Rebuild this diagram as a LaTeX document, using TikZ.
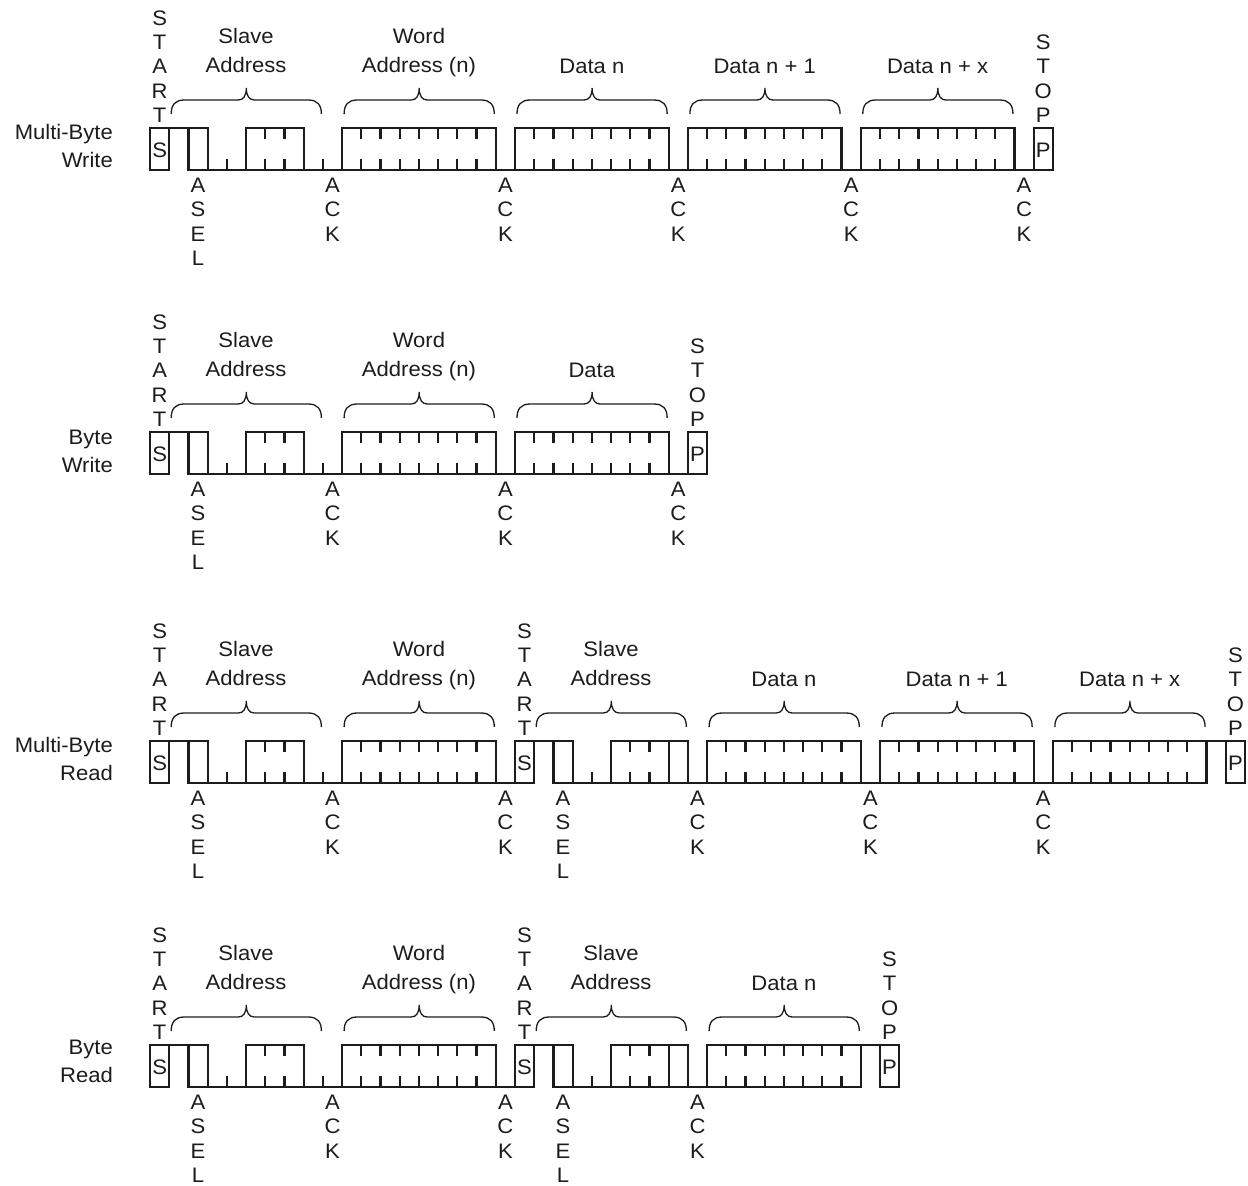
\documentclass[tikz,border=0pt]{standalone}
\usepackage{fontspec}
\setmainfont{Liberation Sans}[FakeStretch=1.05]

\definecolor{ink}{RGB}{30,27,28}

% cell grid of the bus diagrams
\newcommand{\cx}[1]{150+19.21*(#1)}
\newcommand{\sigtop}{128}
\newcommand{\sigbot}{170}

\newcommand{\lowrun}[2]{\draw[wave] ({\cx{#1}},\sigbot) -- ({\cx{#2}},\sigbot);}
\newcommand{\highrun}[2]{\draw[wave] ({\cx{#1}},\sigtop) -- ({\cx{#2}},\sigtop);}
\newcommand{\lowtick}[1]{\draw[wave] ({\cx{#1}},\sigbot) -- ++(0,-11);}
\newcommand{\onebit}[1]{\draw[wave] ({\cx{#1}},\sigtop) rectangle ({\cx{#1+1}},\sigbot);}
\newcommand{\bitbox}[2]{%
  \draw[wave] ({\cx{#1}},\sigtop) rectangle ({\cx{#1+#2}},\sigbot);
  \foreach \i in {2,...,#2}
    \draw[wave] ({\cx{#1+\i-1}},\sigtop) -- ++(0,11)
                ({\cx{#1+\i-1}},\sigbot) -- ++(0,-11);}
\newcommand{\under}[3]{\node[stack,anchor=north] (#3) at ({\cx{#1+0.5}},178) {#2};}
\newcommand{\markbox}[4]{%
  \onebit{#1}
  \node[inbox] (#4) at ({\cx{#1+0.5}},150) {#2};
  \node[stack,anchor=south] (#4-lbl) at ({\cx{#1+0.5}},122.5) {#3};}
\newcommand{\fieldbrace}[2]{%
  \pgfmathsetmacro\brL{\cx{#1}+2}%
  \pgfmathsetmacro\brR{\cx{#2}-1.5}%
  \pgfmathsetmacro\brM{(\brL+\brR)/2}%
  \draw[brace] (\brL,114) .. controls (\brL,105) and ({\brL+4},100) .. ({\brL+13},100)
    -- ({\brM-8},100) .. controls ({\brM-3},100) and (\brM,96) .. (\brM,88)
    .. controls (\brM,96) and ({\brM+3},100) .. ({\brM+8},100)
    -- ({\brR-13},100) .. controls ({\brR-4},100) and (\brR,105) .. (\brR,114);}
\newcommand{\toplabel}[4]{\node[fieldtxt,anchor=north] (#3) at ({(\cx{#1}+\cx{#2})/2},28.5) {#4};}
\newcommand{\datalabel}[4]{\node[fieldtxt,anchor=base] (#3) at ({(\cx{#1}+\cx{#2})/2},73) {#4};}
\newcommand{\ackbit}[2]{\lowrun{#1}{#1+1}\under{#1}{A\\C\\K}{#2}}
\newcommand{\nackbit}[1]{\highrun{#1}{#1+1}}
\newcommand{\databyte}[3]{%
  \bitbox{#1}{8}
  \fieldbrace{#1}{#1+8}
  \datalabel{#1}{#1+8}{#2}{#3}}
\newcommand{\wordaddr}[2]{%
  \bitbox{#1}{8}
  \fieldbrace{#1}{#1+8}
  \toplabel{#1}{#1+8}{#2}{Word\\Address (n)}}
% first address bit, R/W bit (0 or 1), name
\newcommand{\slaveaddr}[3]{%
  \highrun{#1}{#1+1}
  \onebit{#1+1}
  \lowrun{#1+2}{#1+4}
  \lowtick{#1+3}
  \bitbox{#1+4}{3}
  \ifnum#2=0
    \lowrun{#1+7}{#1+9}
    \lowtick{#1+8}
  \else
    \onebit{#1+7}
    \lowrun{#1+8}{#1+9}
  \fi
  \under{#1+1}{A\\S\\E\\L}{#3-asel}
  \under{#1+8}{A\\C\\K}{#3-ack}
  \fieldbrace{#1}{#1+8}
  \toplabel{#1}{#1+8}{#3-lbl}{Slave\\Address}}

\begin{document}
\begin{tikzpicture}[x=1pt,y=-1pt,
  wave/.style={draw=ink,line width=2.2pt},
  brace/.style={draw=ink,line width=1.3pt},
  stack/.style={text=ink,inner sep=0pt,align=center,font=\fontsize{21}{24.2}\selectfont},
  inbox/.style={text=ink,inner sep=0pt,font=\fontsize{21}{24}\selectfont},
  fieldtxt/.style={text=ink,inner sep=0pt,align=center,font=\fontsize{21}{29}\selectfont},
  rowtxt/.style={text=ink,inner sep=0pt,align=right,anchor=north east,font=\fontsize{21}{28}\selectfont}]
\useasboundingbox (0,0) rectangle (1248,1186);

% multi-byte write
\node[rowtxt] (mw) at (113,124.5) {Multi-Byte\\Write};
\markbox{0}{S}{S\\T\\A\\R\\T}{mw-start}
\slaveaddr{1}{0}{mw-slave}
\wordaddr{10}{mw-word}
\ackbit{18}{mw-ack1}
\databyte{19}{mw-d0}{Data n}
\ackbit{27}{mw-ack2}
\databyte{28}{mw-d1}{Data n + 1}
\ackbit{36}{mw-ack3}
\databyte{37}{mw-dx}{Data n + x}
\ackbit{45}{mw-ack4}
\markbox{46}{P}{S\\T\\O\\P}{mw-stop}

% byte write
\begin{scope}[yshift=-304pt]
\node[rowtxt] (bw) at (113,126) {Byte\\Write};
\markbox{0}{S}{S\\T\\A\\R\\T}{bw-start}
\slaveaddr{1}{0}{bw-slave}
\wordaddr{10}{bw-word}
\ackbit{18}{bw-ack1}
\databyte{19}{bw-d0}{Data}
\ackbit{27}{bw-ack2}
\markbox{28}{P}{S\\T\\O\\P}{bw-stop}
\end{scope}

% multi-byte read
\begin{scope}[yshift=-613pt]
\node[rowtxt] (mr) at (113,124.5) {Multi-Byte\\Read};
\markbox{0}{S}{S\\T\\A\\R\\T}{mr-start}
\slaveaddr{1}{0}{mr-slave}
\wordaddr{10}{mr-word}
\ackbit{18}{mr-ack1}
\markbox{19}{S}{S\\T\\A\\R\\T}{mr-restart}
\slaveaddr{20}{1}{mr-slave2}
\databyte{29}{mr-d0}{Data n}
\ackbit{37}{mr-ack2}
\databyte{38}{mr-d1}{Data n + 1}
\ackbit{46}{mr-ack3}
\databyte{47}{mr-dx}{Data n + x}
\nackbit{55}
\markbox{56}{P}{S\\T\\O\\P}{mr-stop}
\end{scope}

% byte read
\begin{scope}[yshift=-917pt]
\node[rowtxt] (br) at (113,123) {Byte\\Read};
\markbox{0}{S}{S\\T\\A\\R\\T}{br-start}
\slaveaddr{1}{0}{br-slave}
\wordaddr{10}{br-word}
\ackbit{18}{br-ack1}
\markbox{19}{S}{S\\T\\A\\R\\T}{br-restart}
\slaveaddr{20}{1}{br-slave2}
\databyte{29}{br-d0}{Data n}
\nackbit{37}
\markbox{38}{P}{S\\T\\O\\P}{br-stop}
\end{scope}
\end{tikzpicture}
\end{document}
